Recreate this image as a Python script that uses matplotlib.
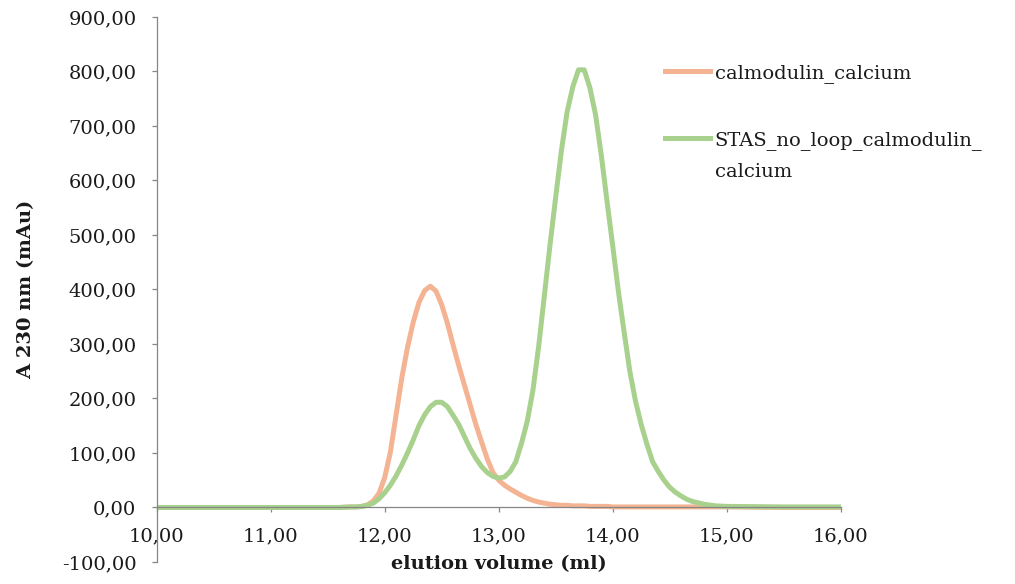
"""
Size-exclusion elution profiles: calmodulin + calcium alone vs. with STAS (no loop).
"""
import matplotlib

matplotlib.use("Agg")
import matplotlib.pyplot as plt
from matplotlib.ticker import FuncFormatter
from matplotlib.transforms import IdentityTransform

plt.rcParams["font.family"] = "DejaVu Serif"

# elution volume (ml)
volume_ml = [
    10.00, 10.50, 11.00, 11.50, 11.60, 11.70, 11.75, 11.80, 11.85, 11.90,
    11.95, 12.00, 12.05, 12.10, 12.15, 12.20, 12.25, 12.30, 12.35, 12.40,
    12.45, 12.50, 12.55, 12.60, 12.65, 12.70, 12.75, 12.80, 12.85, 12.90,
    12.95, 13.00, 13.05, 13.10, 13.15, 13.20, 13.25, 13.30, 13.35, 13.40,
    13.45, 13.50, 13.55, 13.60, 13.65, 13.70, 13.75, 13.80, 13.85, 13.90,
    13.95, 14.00, 14.05, 14.10, 14.15, 14.20, 14.25, 14.30, 14.35, 14.40,
    14.45, 14.50, 14.55, 14.60, 14.65, 14.70, 14.80, 14.90, 15.00, 15.50,
    16.00,
]

# A230 (mAu)
calmodulin_calcium = [
    0, 0, 0, 0, 0, 1, 1, 2, 5, 12,
    26, 55, 102, 170, 238, 294, 340, 376, 398, 406,
    397, 372, 338, 298, 260, 224, 188, 152, 120, 89,
    64, 50, 41, 34, 28, 22, 17, 13, 10, 8,
    6, 5, 4, 4, 3, 3, 3, 2, 2, 2,
    2, 1, 1, 1, 1, 1, 1, 1, 1, 1,
    1, 1, 1, 1, 1, 1, 1, 1, 1, 0,
    0,
]

stas_no_loop_calmodulin_calcium = [
    0, 0, 0, 0, 0, 1, 1, 2, 4, 8,
    16, 27, 41, 58, 78, 100, 124, 150, 170, 185,
    193, 193, 185, 169, 152, 130, 108, 90, 75, 64,
    57, 54, 56, 66, 84, 118, 158, 215, 295, 388,
    482, 570, 655, 726, 772, 803, 803, 770, 720, 646,
    562, 480, 396, 322, 250, 195, 152, 116, 84, 66,
    50, 37, 28, 21, 15, 11, 6, 3, 2, 1,
    1,
]

x_ticks = [10, 11, 12, 13, 14, 15, 16]
y_ticks = [-100, 0, 100, 200, 300, 400, 500, 600, 700, 800, 900]

ORANGE = "#F4B493"
GREEN = "#A9D18E"
AXIS_GREY = "#868686"
TEXT = "#1a1a1a"
FS = 14


def comma_decimal(value, _pos):
    # Excel-style "12,00" labels
    return f"{value:.2f}".replace(".", ",")


fig = plt.figure(figsize=(10.15, 5.84), dpi=100)
ax = fig.add_axes([0.1544, 0.0377, 0.6739, 0.9332])

ax.plot(volume_ml, calmodulin_calcium, color=ORANGE, lw=3.6,
        label="calmodulin_calcium")
ax.plot(volume_ml, stas_no_loop_calmodulin_calcium, color=GREEN, lw=3.6,
        label="STAS_no_loop_calmodulin_")

ax.set_xlim(10, 16)
ax.set_ylim(-100, 900)
ax.set_xticks(x_ticks)
ax.set_yticks(y_ticks)
ax.xaxis.set_major_formatter(FuncFormatter(comma_decimal))
ax.yaxis.set_major_formatter(FuncFormatter(comma_decimal))

ax.spines["top"].set_visible(False)
ax.spines["right"].set_visible(False)
ax.spines["bottom"].set_position(("data", 0))
for side in ("left", "bottom"):
    ax.spines[side].set_color(AXIS_GREY)
    ax.spines[side].set_linewidth(0.9)

ax.tick_params(axis="both", colors=AXIS_GREY, labelcolor=TEXT,
               length=3.6, width=0.9, labelsize=FS, pad=11)

ax.set_xlabel("elution volume (ml)", fontsize=FS, fontweight="bold", color=TEXT)
ax.xaxis.set_label_coords(0.5, 0.012)
ax.set_ylabel("A 230 nm (mAu)", fontsize=FS, fontweight="bold", color=TEXT)
ax.yaxis.set_label_coords(-0.178, 0.5)

leg = ax.legend(loc="upper left", bbox_to_anchor=(665 / 1015, 1 - 64 / 584),
                bbox_transform=fig.transFigure, frameon=False, fontsize=FS,
                handlelength=2.3, handletextpad=0.25, labelspacing=2.46,
                borderpad=0, borderaxespad=0)
for t in leg.get_texts():
    t.set_color(TEXT)

# second legend label wraps onto a second line, handle stays on the first
fig.canvas.draw()
bb = leg.get_texts()[1].get_window_extent()
fig.text(bb.x0, bb.y0 - 31, "calcium", transform=IdentityTransform(),
         fontsize=FS, color=TEXT, ha="left", va="bottom")

fig.savefig("out.png", dpi=100)
